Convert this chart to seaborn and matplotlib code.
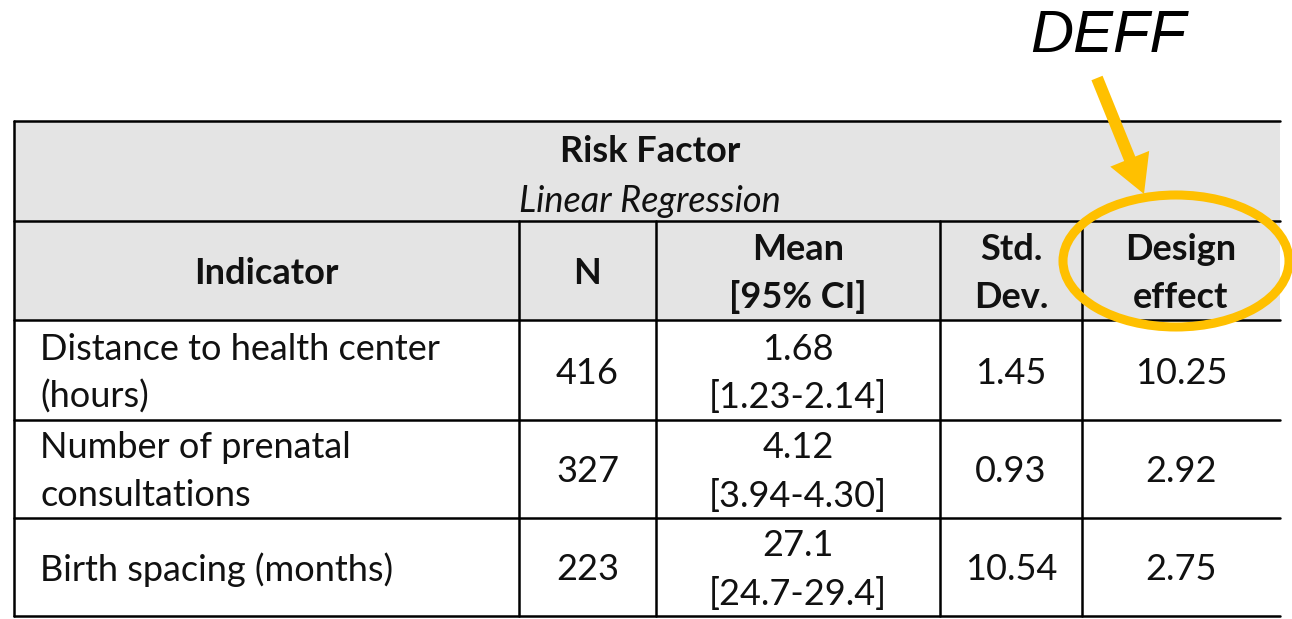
import matplotlib
matplotlib.use("Agg")
import matplotlib.pyplot as plt
import seaborn as sns
from matplotlib.patches import Ellipse, FancyArrow

# table content
indicators = ["Distance to health center\n(hours)",
              "Number of prenatal\nconsultations",
              "Birth spacing (months)"]
n_values = [416, 327, 223]
means = ["1.68", "4.12", "27.1"]
ci = ["[1.23-2.14]", "[3.94-4.30]", "[24.7-29.4]"]
std_dev = ["1.45", "0.93", "10.54"]
deff = ["10.25", "2.92", "2.75"]
col_headers = ["Indicator", "N", "Mean\n[95% CI]", "Std.\nDev.", "Design\neffect"]

sns.set_theme(style="white")
plt.rcParams['font.family'] = ['Lato', 'DejaVu Sans']

fig = plt.figure(figsize=(12.92, 6.19), dpi=100)
ax = fig.add_axes([0, 0, 1, 1])
ax.set_xlim(0, 1292)
ax.set_ylim(619, 0)
ax.axis("off")

FS = 26
LINE = 48
col_x = [14, 519, 656, 940, 1082, 1280]
row_y = [121, 221, 320, 420, 518, 616]
grey = "#E4E4E4"

# grey header band
ax.fill_between([col_x[0], col_x[-1]], row_y[0], row_y[2], color=grey, lw=0, zorder=0)

# horizontal rules
for y in row_y:
    ax.plot([col_x[0], col_x[-1]], [y, y], color="black", lw=1.8, zorder=2)
# vertical rules
ax.plot([col_x[0], col_x[0]], [row_y[0], row_y[-1]], color="black", lw=1.8, zorder=2)
for x in col_x[1:-1]:
    ax.plot([x, x], [row_y[1], row_y[-1]], color="black", lw=1.8, zorder=2)


def put(x, yc, txt, ha="center", **kw):
    lines = txt.split("\n")
    start = yc - (len(lines) - 1) * LINE / 2
    for i, ln in enumerate(lines):
        ax.text(x, start + i * LINE + 3, ln, ha=ha, va="center", fontsize=FS,
                color="#111111", zorder=3, **kw)


put(650, 148, "Risk Factor", fontweight="bold")
put(650, 198, "Linear Regression", fontstyle="italic")

centers = [(col_x[i] + col_x[i + 1]) / 2 for i in range(5)]
hy = (row_y[1] + row_y[2]) / 2
for c, h in zip(centers, col_headers):
    put(c, hy, h, fontweight="bold")

for i in range(3):
    yc = (row_y[i + 2] + row_y[i + 3]) / 2
    put(40, yc, indicators[i], ha="left")
    put(centers[1], yc, str(n_values[i]))
    put(centers[2], yc, means[i] + "\n" + ci[i])
    put(centers[3], yc, std_dev[i])
    put(centers[4], yc, deff[i])

# annotation
ax.text(1108, 36, "DEFF", ha="center", va="center", fontsize=43,
        fontstyle="italic", family=["Liberation Sans", "DejaVu Sans"], color="black")
ax.add_patch(FancyArrow(1097, 78, 47, 116, width=12, head_width=42, head_length=38,
                        length_includes_head=True, color="#FFC000", lw=0, zorder=4))
ax.add_patch(Ellipse((1176, 261), 226, 132, fill=False, edgecolor="#FFC000",
                     lw=6.5, zorder=4))

fig.savefig("out.png", dpi=100)
